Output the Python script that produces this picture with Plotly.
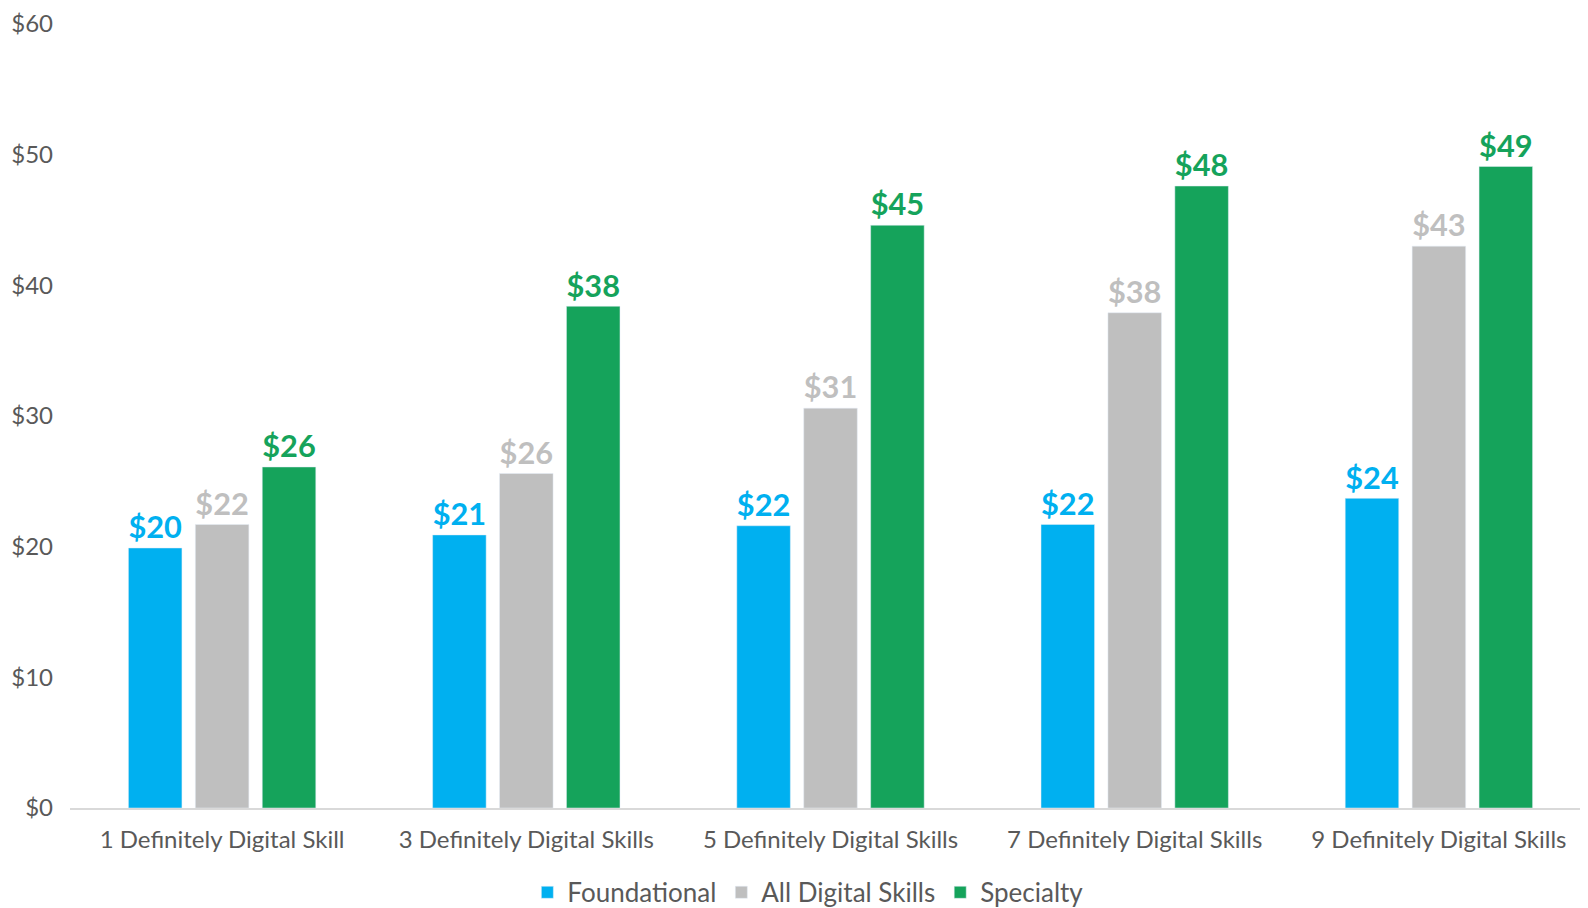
import plotly.graph_objects as go

categories = ["1 Definitely Digital Skill", "3 Definitely Digital Skills", "5 Definitely Digital Skills",
              "7 Definitely Digital Skills", "9 Definitely Digital Skills"]
foundational = [19.9, 20.9, 21.6, 21.7, 23.7]
all_digital = [21.7, 25.6, 30.6, 37.9, 43.0]
specialty = [26.1, 38.4, 44.6, 47.6, 49.1]
y_ticks = [0, 10, 20, 30, 40, 50, 60]
y_tick_labels = ["$0", "$10", "$20", "$30", "$40", "$50", "$60"]

series = [
    ("Foundational", foundational, "#00B0F0"),
    ("All Digital Skills", all_digital, "#BFBFBF"),
    ("Specialty", specialty, "#15A35B"),
]

FONT = "Lato"
fig = go.Figure()
for name, vals, color in series:
    fig.add_trace(go.Bar(
        x=categories, y=vals, name=name, marker_color=color,
        text=vals, texttemplate="$%{y:.0f}", textposition="outside",
        textfont=dict(family=FONT, size=32, color=color, weight="bold"),
        cliponaxis=False,
    ))

fig.update_layout(
    width=1588, height=908,
    margin=dict(l=62, r=5, t=16, b=108, autoexpand=False),
    paper_bgcolor="white", plot_bgcolor="white",
    barmode="group", bargap=0.34, bargroupgap=0.2,
    font=dict(family=FONT, size=24, color="#595959"),
    showlegend=True,
    legend=dict(orientation="h", xref="container", x=0.504, xanchor="center",
                yref="container", y=0.026, yanchor="middle",
                font=dict(family=FONT, size=26, color="#595959"), itemwidth=30,
                traceorder="normal"),
)
fig.update_xaxes(showline=True, linecolor="#D9D9D9", linewidth=2, ticks="",
                 ticklabelstandoff=9, automargin=False,
                 tickfont=dict(family=FONT, size=24, color="#595959"))
fig.update_yaxes(range=[0, 60], tickvals=y_ticks, ticktext=y_tick_labels, showgrid=False,
                 zeroline=False, showline=False, ticklabelstandoff=16, automargin=False,
                 tickfont=dict(family=FONT, size=24, color="#595959"))

fig.write_html("out.html")
